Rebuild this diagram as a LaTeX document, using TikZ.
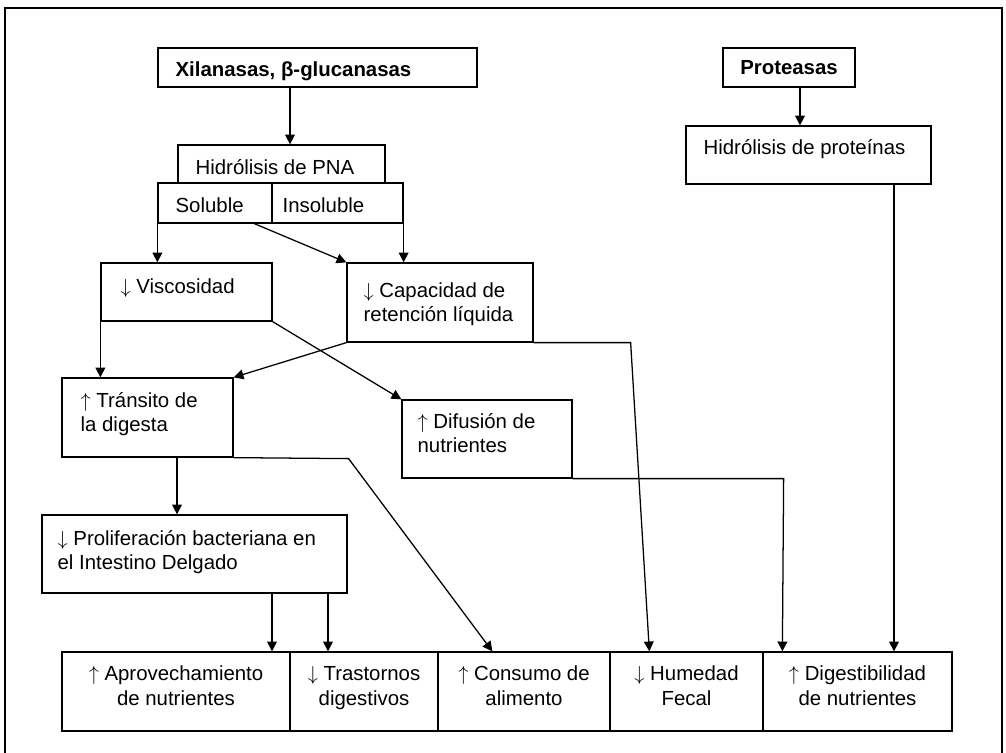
\documentclass[tikz,border=0pt]{standalone}
\usepackage{fontspec}
\setmainfont{Liberation Sans}
\usetikzlibrary{positioning}
\usetikzlibrary{calc}
\usetikzlibrary{fit}
\usetikzlibrary{arrows.meta}
\newcommand{\diagfont}{\fontsize{14.5}{17.7}\selectfont}
\newcommand{\up}{$\uparrow$}
\newcommand{\down}{$\downarrow$}
\tikzset{
    box/.style = {draw, fit={#1}, inner sep=0pt},
    lbl/.style = {anchor=base west, align=left, inner sep=0pt},
    clbl/.style = {anchor=base, align=center, inner sep=0pt},
    arr/.style = {-{Triangle[length=7pt,width=7pt]}}}
\begin{document}
\begin{tikzpicture}[x=0.025cm, y=-0.025cm, line width=0.9pt, font=\diagfont]
    \useasboundingbox (0,0) rectangle (1006,753);
    \draw (5,753) -- (5,8) -- (1002,8) -- (1002,753);
    % enzimas y su hidrolisis
    \node[box={(158,48) (477,87)}] (xil) {};
    \node[lbl, font=\diagfont\bfseries] (xil-t) at (175,77) {Xilanasas, β-glucanasas};
    \node[box={(723,48) (855,87)}] (prot) {};
    \node[clbl, font=\diagfont\bfseries] (prot-t) at (789,75) {Proteasas};
    \node[box={(178,145) (385,183)}] (pna) {};
    \node[lbl] (pna-t) at (195,175) {Hidrólisis de PNA};
    \node[box={(158,183) (272,223)}] (sol) {};
    \node[lbl] (sol-t) at (175,213) {Soluble};
    \node[box={(272,183) (403,223)}] (insol) {};
    \node[lbl] (insol-t) at (282,213) {Insoluble};
    \node[box={(686,126) (931,184)}] (hprot) {};
    \node[lbl] (hprot-t) at (703,155) {Hidrólisis de proteínas};
    % efectos intermedios (base = ultima linea)
    \node[box={(101,263) (272,321)}] (visc) {};
    \node[lbl] (visc-t) at (120,294) {\down\ Viscosidad};
    \node[box={(347,263) (533,342)}] (cap) {};
    \node[lbl] (cap-t) at (363,322) {\down\ Capacidad de\\retención líquida};
    \node[box={(62,378) (233,457)}] (trans) {};
    \node[lbl] (trans-t) at (80,432) {\up\ Tránsito de\\la digesta};
    \node[box={(402,400) (572,478)}] (dif) {};
    \node[lbl] (dif-t) at (417,453) {\up\ Difusión de\\nutrientes};
    \node[box={(42,515) (347,593)}] (prol) {};
    \node[lbl] (prol-t) at (57,570) {\down\ Proliferación bacteriana en\\el Intestino Delgado};
    % resultados
    \node[box={(62,652) (290,731)}] (apr) {};
    \node[clbl] (apr-t) at ($(apr.north)+(0,54)$) {\up\ Aprovechamiento\\de nutrientes};
    \node[box={(290,652) (438,731)}] (tras) {};
    \node[clbl] (tras-t) at ($(tras.north)+(0,54)$) {\down\ Trastornos\\digestivos};
    \node[box={(438,652) (610,731)}] (cons) {};
    \node[clbl] (cons-t) at ($(cons.north)+(0,54)$) {\up\ Consumo de\\alimento};
    \node[box={(610,652) (763,731)}] (hum) {};
    \node[clbl] (hum-t) at ($(hum.north)+(0,54)$) {\down\ Humedad\\Fecal};
    \node[box={(763,652) (952,731)}] (dig) {};
    \node[clbl] (dig-t) at ($(dig.north)+(0,54)$) {\up\ Digestibilidad\\de nutrientes};
    % flechas
    \draw[arr] (xil.south -| 290,0) -- (pna.north -| 290,0);
    \draw[arr] (prot.south -| 800,0) -- (hprot.north -| 800,0);
    \draw[arr] (hprot.south -| 894,0) -- (dig.north -| 894,0);
    \draw[arr] (sol.south west) -- (sol.south west |- visc.north);
    \draw[arr] (insol.south east) -- (insol.south east |- cap.north);
    \draw[arr] ($(sol.south west)+(97,0)$) -- (cap.north west);
    \draw[arr] (visc.south west) -- (visc.south west |- trans.north);
    \draw[arr] (cap.south west) -- (trans.north east);
    \draw[arr] (visc.south east) -- (dif.north west);
    \draw[arr] (cap.south east) -- ++(97,0) -- ($(hum.north west)+(40,0)$);
    \draw[arr] (dif.south east) -- ++(211,0) -- ($(dig.north west)+(20,0)$);
    \draw[arr] (trans.south east) -- ++(115,1) -- ($(cons.north west)+(55,0)$);
    \draw[arr] (trans.south -| 177,0) -- (prol.north -| 177,0);
    \draw[arr] (prol.south -| 272,0) -- (apr.north -| 272,0);
    \draw[arr] (prol.south -| 328,0) -- (tras.north -| 328,0);
\end{tikzpicture}
\end{document}
